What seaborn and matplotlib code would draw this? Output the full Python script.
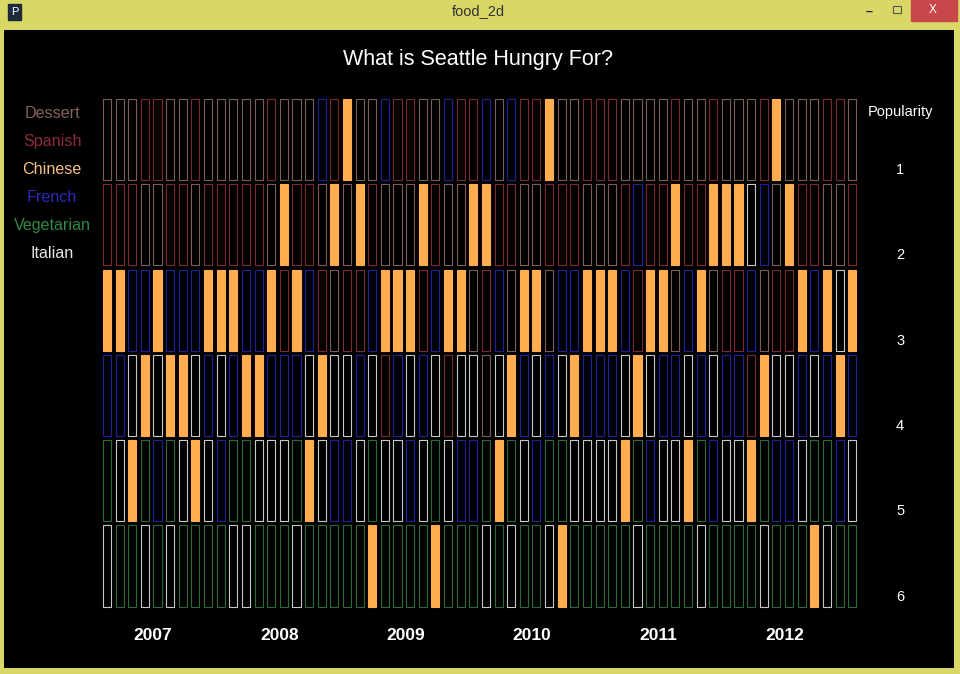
import numpy as np
import pandas as pd
import seaborn as sns
import matplotlib.pyplot as plt
from matplotlib.patches import Rectangle

# cuisine ranking per month, rank 1 (top) to rank 6 (bottom)
cuisines = ['Dessert', 'Spanish', 'Chinese', 'French', 'Vegetarian', 'Italian']
codes = {'D': 'Dessert', 'S': 'Spanish', 'C': 'Chinese',
         'F': 'French', 'V': 'Vegetarian', 'I': 'Italian'}
years = ['2007', '2008', '2009', '2010', '2011', '2012']
ranks = ['1', '2', '3', '4', '5', '6']

rank1 = list('DDDSSDDSDDDDDSDDDFSCDDFSSDDFSS' + 'FDFSSCDDSSSDDDDSDDSDDDSCDDDSSD')
rank2 = list('SSSDDSSDSSSSSDCSSDCDCSDDDCSDDC' + 'CSSDDSSSDDDSFSSCSSCCCIFDCSSDDS')
rank3 = list('CCFFCFFFCCCFFCSCFSDSSFCCCSFCCD' + 'SFDCCDFFCCCFSCCDFCDSSFDSSCFCIC')
rank4 = list('FFICICCIFIFCCFFFICIIFISFIFISII' + 'DICFIFICFFFICIFFIFIFFSCIIFIFCF')
rank5 = list('VICVFVICIFVVIIIVCIFFIVIIFIVIFF' + 'VCVIFVVIIIICVFIICVFIICVFFIVVFI')
rank6 = list('IVVIVIVVVVIIVVVIVVVVVCVVVVCVVV' + 'IVIVVICVVVVVIVVVVIVVVVIVVVCIVV')

edge_colors = {'Dessert': '#7b5e58', 'Spanish': '#7d2833', 'Chinese': '#ffad4f',
               'French': '#20209a', 'Vegetarian': '#2b6b3a', 'Italian': '#c8c8c8'}
label_colors = {'Dessert': '#86635b', 'Spanish': '#8e2b3b', 'Chinese': '#f5bf85',
                'French': '#2a2ab8', 'Vegetarian': '#2f8a45', 'Italian': '#e8e8e8'}

rows = []
for r, seq in enumerate([rank1, rank2, rank3, rank4, rank5, rank6]):
    for m, c in enumerate(seq):
        rows.append({'month': m, 'rank': r, 'cuisine': codes[c]})
df = pd.DataFrame(rows)

sns.set_theme(style='dark')
plt.rcParams['font.family'] = ['Liberation Sans', 'DejaVu Sans']

fig = plt.figure(figsize=(9.6, 6.74), dpi=100)
fig.patch.set_facecolor('#d9d866')

ax = fig.add_axes([4 / 960, 6 / 674, 950 / 960, 638 / 674])
ax.set_facecolor('black')
for s in ax.spines.values():
    s.set_visible(False)
ax.set_xticks([])
ax.set_yticks([])
ax.grid(False)

for cuisine in cuisines:
    sub = df[df['cuisine'] == cuisine]
    filled = cuisine == 'Chinese'
    ax.bar(sub['month'], 0.95, bottom=sub['rank'], width=0.64, align='center',
           facecolor=edge_colors[cuisine] if filled else 'none',
           edgecolor=edge_colors[cuisine], linewidth=0.8)

ax.set_xlim(-8.155, 67.06)
ax.set_ylim(6.671, -0.809)

# left legend
for k, cuisine in enumerate(cuisines):
    ax.text(-4.35, 0.175 + k * 0.328, cuisine, color=label_colors[cuisine],
            fontsize=11.6, ha='center', va='center')

# popularity labels
ax.text(62.79, 0.152, 'Popularity', color='white', fontsize=10.5, ha='center', va='center')
for k, lab in enumerate(ranks):
    ax.text(62.79, k + 0.833, lab, color='white', fontsize=10.5, ha='center', va='center')

# year labels
for k, yr in enumerate(years):
    ax.text(3.64 + 10 * k, 6.295, yr, color='white', fontsize=12.5, fontweight='bold',
            ha='center', va='center')

fig.text(478 / 960, 1 - 59 / 674, 'What is Seattle Hungry For?', color='white',
         fontsize=15.5, ha='center', va='center')

# window chrome
fig.text(478 / 960, 1 - 11 / 674, 'food_2d', color='#333333', fontsize=10.5,
         ha='center', va='center')
fig.patches.append(Rectangle((911 / 960, 1 - 21 / 674), 46 / 960, 21 / 674,
                             transform=fig.transFigure, color='#c9474b'))
fig.text(933 / 960, 1 - 10 / 674, 'X', color='white', fontsize=8.5, ha='center', va='center')
fig.text(869 / 960, 1 - 12 / 674, '\u2013', color='#222222', fontsize=9,
         ha='center', va='center', fontweight='bold')
fig.patches.append(Rectangle((893 / 960, 1 - 13 / 674), 8 / 960, 7 / 674,
                             transform=fig.transFigure, facecolor='none',
                             edgecolor='#555555', linewidth=0.8))
fig.patches.append(Rectangle((8 / 960, 1 - 20 / 674), 13 / 960, 16 / 674,
                             transform=fig.transFigure, color='#1c2a3a'))
fig.text(14.5 / 960, 1 - 12 / 674, 'P', color='white', fontsize=8, ha='center', va='center')

fig.savefig('out.png', dpi=100, facecolor=fig.get_facecolor())
plt.close(fig)
